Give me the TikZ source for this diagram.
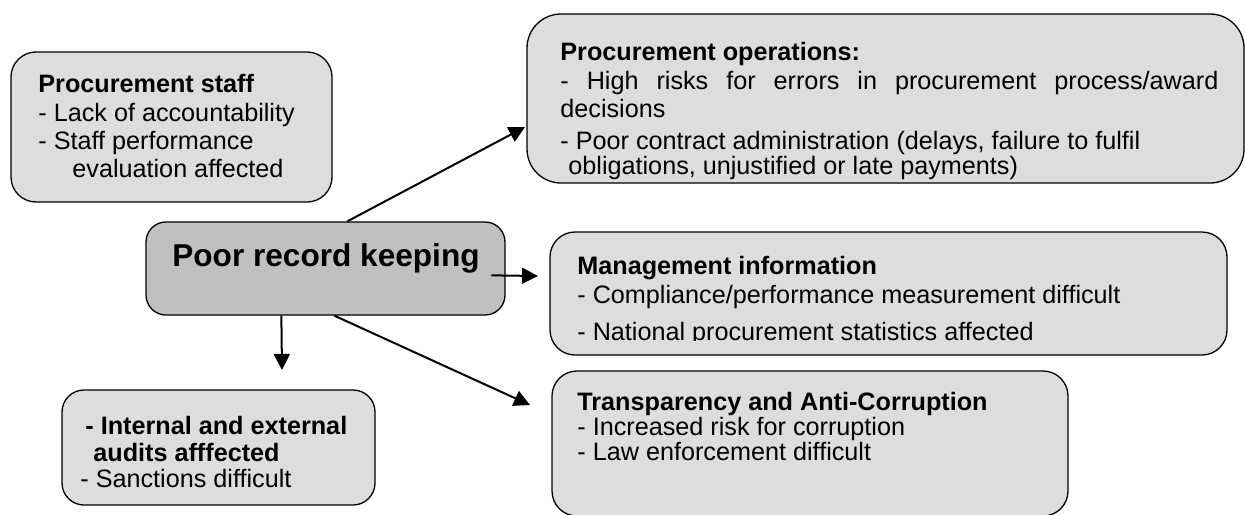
\documentclass[tikz,border=0pt]{standalone}
\usepackage{fontspec}
\setmainfont{Liberation Sans}
\usetikzlibrary{arrows.meta, calc}
\definecolor{boxgray}{HTML}{DDDDDD}
\definecolor{keygray}{HTML}{C0C0C0}

\begin{document}
\begin{tikzpicture}[x=0.5pt, y=-0.5pt,
    box/.style={draw, line width=0.65pt, fill=boxgray, rounded corners=#1, inner sep=0pt},
    box/.default=12.5pt,
    txt/.style={anchor=north west, inner sep=0pt, align=left},
    arr/.style={-{Triangle[length=8pt,width=8pt]}, line width=1pt}]
    \useasboundingbox (0,0) rectangle (1245,514);

    % Draw boxes
    \node[box, minimum width=160.5pt, minimum height=75pt] (staff) at (171.5,127) {};
    \node[box=17pt, minimum width=358.5pt, minimum height=84.5pt] (ops) at (885.5,98.5) {};
    \node[box=10pt, fill=keygray, minimum width=179.5pt, minimum height=46.5pt] (poor) at (325.5,268.5) {};
    \node[box, minimum width=338.5pt, minimum height=61.5pt] (mgmt) at (888.5,293.5) {};
    \node[box=11pt, minimum width=156.5pt, minimum height=57.5pt] (audit) at (218.5,447.5) {};
    \node[box, minimum width=258pt, minimum height=72.5pt] (transp) at (810,443.5) {};

    % Add texts
    \node[font=\fontsize{15.8}{19}\selectfont\bfseries, anchor=base, inner sep=0pt] (poortext) at (326,266) {Poor record keeping};
    \node[txt, font=\fontsize{12.6}{14.2}\selectfont] (stafftext) at (38,74)
        {\textbf{Procurement staff}\\- Lack of accountability\\- Staff performance\\\hspace*{17pt}evaluation affected};
    \node[txt, font=\fontsize{12.6}{14.3}\selectfont] (opstext) at (560,42)
        {\textbf{Procurement operations:}\\\makebox[329pt][s]{- High risks for errors in procurement process/award}\\decisions\\[1.5pt]- Poor contract administration (delays, failure to fulfil\\[-1.8pt]\hspace*{4pt}obligations, unjustified or late payments)};
    \begin{scope}
        \clip (550,232) rectangle (1227,340);
        \node[txt, font=\fontsize{12.6}{14.3}\selectfont] (mgmttext) at (577,256)
            {\textbf{Management information}\\- Compliance/performance measurement difficult\\[4.5pt]- National procurement statistics affected};
    \end{scope}
    \node[txt, font=\fontsize{12.6}{13.2}\selectfont] (audittext) at (80,416)
        {\hspace*{2.5pt}\textbf{- Internal and external}\\\hspace*{6.5pt}\textbf{audits afffected}\\- Sanctions difficult};
    \node[txt, font=\fontsize{12.6}{12.5}\selectfont] (transptext) at (577,392)
        {\textbf{Transparency and Anti-Corruption}\\- Increased risk for corruption\\- Law enforcement difficult};

    % Draw arrows
    \coordinate (opsTip) at (525,127);
    \coordinate (mgmtTip) at (538,276);
    \coordinate (auditTip) at (282,370);
    \coordinate (transpTip) at (530,405);
    \draw[arr] ($(poor.north west)+(202,0)$) -- (opsTip);
    \draw[arr] ($(poor.north west)+(346,54)$) -- (mgmtTip);
    \draw[arr] ($(poor.south west)+(136,0)$) -- (auditTip);
    \draw[arr] ($(poor.south west)+(189,0)$) -- (transpTip);
\end{tikzpicture}
\end{document}
